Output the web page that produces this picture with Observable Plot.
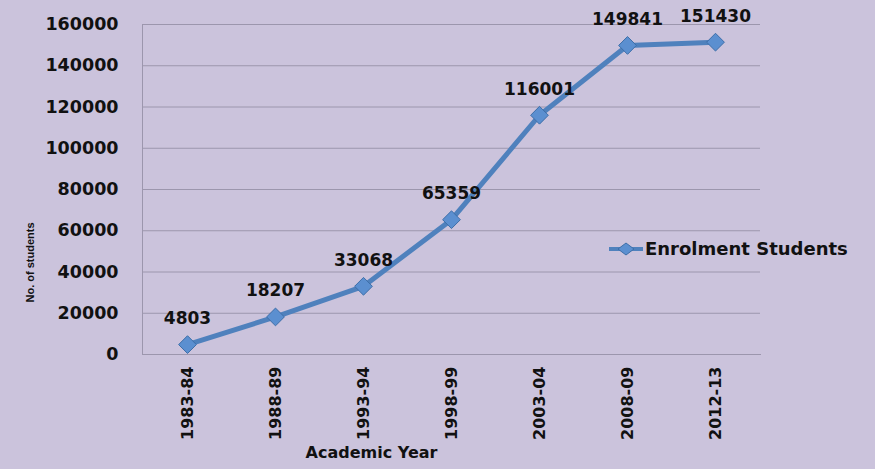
<!DOCTYPE html>
<html>
<head>
<meta charset="utf-8">
<script src="https://cdn.jsdelivr.net/npm/d3@7"></script>
<script src="https://cdn.jsdelivr.net/npm/@observablehq/plot@0.6"></script>
<style>
  html, body { margin: 0; padding: 0; background: #cbc3dc; }
  #wrap { position: relative; width: 875px; height: 469px; overflow: hidden; }
  #legend { position: absolute; left: 609px; top: 238px; display: flex; align-items: center;
    font-family: "DejaVu Sans", Verdana, sans-serif; font-weight: bold; font-size: 18px; color: #111; }
</style>
</head>
<body>
<div id="wrap"></div>
<script>
const years = ["1983-84", "1988-89", "1993-94", "1998-99", "2003-04", "2008-09", "2012-13"];
const enrolment = [4803, 18207, 33068, 65359, 116001, 149841, 151430];
const yTicks = [0, 20000, 40000, 60000, 80000, 100000, 120000, 140000, 160000];
const seriesName = "Enrolment Students";
const xTitle = "Academic Year";
const yTitle = "No. of students";

const data = years.map((y, i) => ({year: y, value: enrolment[i]}));
const font = '"DejaVu Sans", Verdana, sans-serif';
const blue = "#4f81bd";

const chart = Plot.plot({
  width: 875,
  height: 469,
  marginLeft: 142,
  marginRight: 115,
  marginTop: 24,
  marginBottom: 115,
  style: {background: "#cbc3dc", fontFamily: font, color: "#111", overflow: "visible"},
  x: {type: "point", domain: years, padding: 0.5, label: null},
  y: {domain: [0, 160000], label: null},
  marks: [
    Plot.gridY(yTicks, {stroke: "#9c96ad", strokeOpacity: 1, strokeWidth: 1}),
    Plot.frame({anchor: "left", stroke: "#9c96ad"}),
    Plot.frame({anchor: "bottom", stroke: "#9c96ad"}),
    Plot.axisY({ticks: yTicks, tickSize: 0, tickPadding: 24, tickFormat: d => String(d),
      fontSize: 17.5, fontWeight: "bold", label: null}),
    Plot.axisX({tickSize: 0, tickRotate: -90, tickPadding: 12, fontSize: 16, fontWeight: "bold", label: null}),
    Plot.line(data, {x: "year", y: "value", stroke: blue, strokeWidth: 5, strokeLinejoin: "round"}),
    Plot.dot(data, {x: "year", y: "value", symbol: "diamond2", r: 8, fill: "#5b8fd0", stroke: "#3d6ea8", strokeWidth: 1}),
    Plot.text(data, {x: "year", y: "value", text: d => String(d.value), dy: -26, fontSize: 17, fontWeight: "bold", fill: "#111"}),
    Plot.text([xTitle], {frameAnchor: "bottom", textAnchor: "middle", dx: -80, dy: 103, fontSize: 16, fontWeight: "bold", fill: "#111"}),
    Plot.text([yTitle], {frameAnchor: "left", textAnchor: "middle", dx: -112, dy: 73, rotate: -90, fontSize: 11,
      fontWeight: "bold", fill: "#111", fontFamily: '"Liberation Sans Narrow", "Liberation Sans", sans-serif'})
  ]
});

const wrap = document.getElementById("wrap");
wrap.appendChild(chart);

const legend = document.createElement("div");
legend.id = "legend";
legend.innerHTML = `<svg width="34" height="14" style="margin-right:2px"><line x1="0" y1="7" x2="34" y2="7" stroke="${blue}" stroke-width="4"/><path d="M17,1 L25,7 L17,13 L9,7 Z" fill="#5b8fd0" stroke="#3d6ea8"/></svg><span>${seriesName}</span>`;
wrap.appendChild(legend);
</script>
</body>
</html>
